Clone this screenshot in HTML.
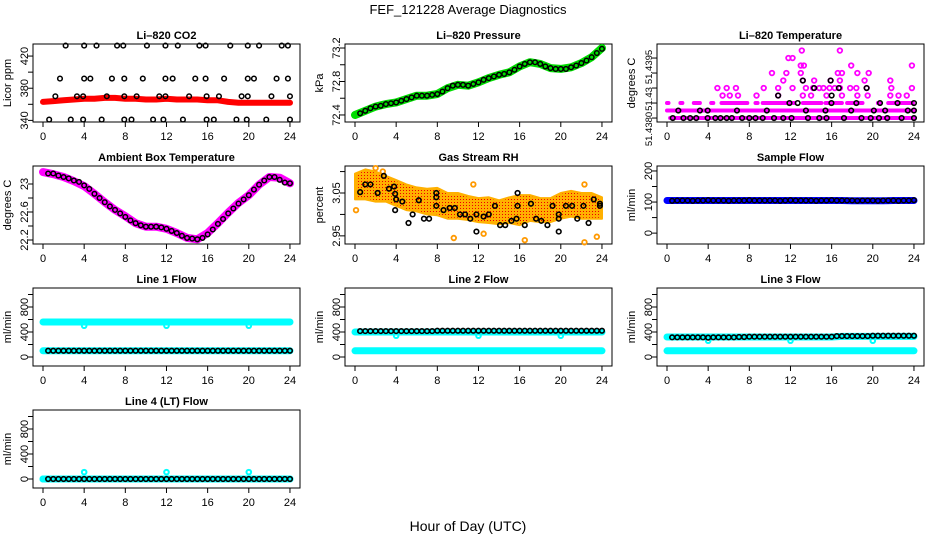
<!DOCTYPE html>
<html><head><meta charset="utf-8">
<style>
html,body{margin:0;padding:0;background:#fff;}
svg{display:block;font-family:"Liberation Sans",Arial,sans-serif;}
</style></head>
<body>
<svg id="chart" width="936" height="540" viewBox="0 0 936 540" xmlns="http://www.w3.org/2000/svg">
<rect width="936" height="540" fill="#fff"/>
<text x="468" y="14" font-size="13" text-anchor="middle">FEF_121228  Average Diagnostics</text>
<text x="468" y="531" font-size="14" text-anchor="middle">Hour of Day (UTC)</text>
<g id="plots"></g>
</svg>
<script>
// ---- shared categories ----
const H48 = [0.5,1,1.5,2,2.5,3,3.5,4,4.5,5,5.5,6,6.5,7,7.5,8,8.5,9,9.5,10,10.5,11,11.5,12,12.5,13,13.5,14,14.5,15,15.5,16,16.5,17,17.5,18,18.5,19,19.5,20,20.5,21,21.5,22,22.5,23,23.5,24];
const H25 = [0,1,2,3,4,5,6,7,8,9,10,11,12,13,14,15,16,17,18,19,20,21,22,23,24];
const xTicks = [0,4,8,12,16,20,24];

// ---- CO2 ----
const co2RedV = [363,364,365,366,367,367,368,368,367,367,366,366,367,366,366,366,365,365,363,362,362,362,362,362,362];
const co2H = [2.2,4.0,5.2,7.2,7.8,10.1,11.9,13.1,15.2,15.8,18.2,19.9,21.0,23.2,23.8,
  1.65,4.0,4.6,6.7,7.9,9.7,11.9,12.6,14.8,15.8,17.6,19.9,20.5,22.7,23.8,
  1.2,3.3,3.9,6.2,7.9,9.1,11.3,11.9,14.2,15.9,17.1,19.3,19.9,22.2,24.0,
  0.6,2.7,3.9,5.7,7.9,8.6,10.7,11.7,13.6,15.9,16.6,18.8,19.8,21.7,24.0];
const co2V = [433,433,433,433,433,433,433,433,433,433,433,433,433,433,433,
  392,392,392,392,392,392,392,392,392,392,392,392,392,392,392,
  370,370,370,370,370,370,370,370,370,370,370,370,370,370,370,
  341,341,341,341,341,341,341,341,341,341,341,341,341,341,341];

// ---- Pressure ----
const presGreen = [72.40,72.45,72.50,72.53,72.55,72.59,72.63,72.63,72.65,72.72,72.76,72.75,72.79,72.84,72.88,72.91,72.98,73.03,73.01,72.96,72.95,72.97,73.02,73.09,73.20];
const presBlack = [72.42,72.45,72.48,72.50,72.51,72.53,72.54,72.55,72.57,72.59,72.61,72.63,72.63,72.63,72.64,72.65,72.68,72.72,72.75,72.76,72.76,72.75,72.77,72.79,72.82,72.84,72.86,72.88,72.89,72.91,72.94,72.98,73.01,73.03,73.03,73.01,72.98,72.96,72.95,72.95,72.95,72.97,72.99,73.02,73.05,73.09,73.14,73.19];

// ---- Li-820 Temperature ----
const tmpRowV = [51.4380,51.43825];
const tmpRowStart = [0.3,0];
const tmpRowEnd = [24,24];
const tmpSegStart = [0,1.3,2.6,4.3,5.3,8.6,9.3,13.2,15.4,17.5,20.5,21.5];
const tmpSegEnd = [0.15,1.5,3.2,4.5,7.8,8.8,12.4,15.0,17.0,19.0,20.7,23.9];
const tmpSegV = 51.4385;
const tmpMagH = [5.4,6.1,6.9,8.7,10.8,13.2,14.0,15.5,17.0,18.5,19.5,21.7,22.5,23.3,
  4.9,5.8,6.7,9.4,10.8,12.2,13.5,14.2,14.8,15.2,15.8,16.3,16.8,17.8,18.4,19.4,21.8,23.8,
  11.3,13.2,14.3,15.9,16.8,19.2,21.7,
  10.2,11.6,13.0,16.6,17.0,18.5,19.6,
  13.0,13.3,17.9,23.8, 11.8,12.2, 13.1,16.8];
const tmpMagV = [51.43875,51.43875,51.43875,51.43875,51.43875,51.43875,51.43875,51.43875,51.43875,51.43875,51.43875,51.43875,51.43875,51.43875,
  51.4390,51.4390,51.4390,51.4390,51.4390,51.4390,51.4390,51.4390,51.4390,51.4390,51.4390,51.4390,51.4390,51.4390,51.4390,51.4390,51.4390,51.4390,
  51.43925,51.43925,51.43925,51.43925,51.43925,51.43925,51.43925,
  51.4395,51.4395,51.4395,51.4395,51.4395,51.4395,51.4395,
  51.43975,51.43975,51.43975,51.43975, 51.4400,51.4400, 51.44025,51.44025];
const tmpBlkH = [0.56,1.6,2.25,2.84,3.95,4.7,5.2,5.8,6.3,7.3,8.0,8.6,9.3,10.4,11.3,12.1,13.7,14.8,15.5,17.2,18.9,19.8,20.6,21.4,22.8,24.0,
  1.1,3.2,3.95,6.8,9.7,13.5,15.4,17.9,20.1,21.2,23.4,24.0,
  11.9,12.7,15.98,18.4,20.7,22.4,24.0, 10.8,16.0, 14.3,16.7,19.4, 13.2,15.9];
const tmpBlkV = [51.4380,51.4380,51.4380,51.4380,51.4380,51.4380,51.4380,51.4380,51.4380,51.4380,51.4380,51.4380,51.4380,51.4380,51.4380,51.4380,51.4380,51.4380,51.4380,51.4380,51.4380,51.4380,51.4380,51.4380,51.4380,51.4380,
  51.43825,51.43825,51.43825,51.43825,51.43825,51.43825,51.43825,51.43825,51.43825,51.43825,51.43825,51.43825,
  51.4385,51.4385,51.4385,51.4385,51.4385,51.4385,51.4385, 51.43875,51.43875, 51.4390,51.4390,51.4390, 51.43925,51.43925];

// ---- Ambient ----
const ambMag = [23.17,23.14,23.10,23.04,22.97,22.86,22.74,22.63,22.54,22.44,22.39,22.39,22.36,22.30,22.23,22.21,22.30,22.44,22.59,22.73,22.84,22.99,23.10,23.09,23.01];
const ambBlack = [23.15,23.15,23.12,23.10,23.08,23.05,23.03,22.98,22.93,22.86,22.80,22.74,22.68,22.63,22.58,22.53,22.48,22.44,22.41,22.39,22.39,22.39,22.38,22.36,22.33,22.30,22.26,22.23,22.22,22.21,22.23,22.28,22.35,22.43,22.50,22.58,22.65,22.72,22.78,22.84,22.92,22.99,23.05,23.10,23.10,23.06,23.02,23.01];

// ---- RH ----
const rhMid = [3.065,3.07,3.065,3.06,3.05,3.04,3.035,3.03,3.03,3.02,3.02,3.015,3.01,3.01,3.005,3.01,3.01,3.015,3.01,3.01,3.02,3.025,3.02,3.02,3.015];
const rhHalf = [0.03,0.035,0.035,0.03,0.03,0.03,0.028,0.03,0.032,0.03,0.03,0.028,0.028,0.03,0.028,0.03,0.035,0.03,0.028,0.028,0.03,0.03,0.03,0.03,0.025];
const rhOutH = [9.6,16.5,22.3,23.5,2.0,2.7,11.5,22.3,0.1,12.5];
const rhOutV = [2.945,2.94,2.935,2.948,3.108,3.10,3.07,3.07,3.01,2.955];
const rhBlkH = [0.5,1.0,1.5,2.2,2.8,3.3,3.8,3.9,4.0,3.9,4.6,5.2,5.6,6.2,6.7,7.2,7.9,7.9,7.9,8.6,9.2,9.7,10.2,10.7,11.2,11.8,11.8,12.5,13.0,13.6,14.1,14.6,15.2,15.7,15.8,15.8,16.5,17.1,17.6,18.1,18.7,19.2,19.8,19.8,19.8,20.5,21.1,21.6,22.2,22.7,23.2,23.8,23.8];
const rhBlkV = [3.052,3.07,3.07,3.05,3.09,3.06,3.065,3.048,3.035,3.01,3.03,2.98,3.0,3.033,2.99,2.99,3.05,3.04,3.02,3.01,3.015,3.015,3.0,3.0,2.99,3.0,2.96,2.995,3.0,3.02,2.975,2.975,2.985,2.99,3.02,3.05,2.975,3.025,2.99,2.985,2.975,3.02,3.0,2.99,2.96,3.02,3.02,2.99,3.02,2.98,3.035,3.025,3.02];

// ---- Sample flow ----
const sampBlue = [105,105,105,105,105,105,105,105,105,105,105,105,105,105,105,105,105,105,104,104,104,104,105,105,105];
const sampBlack = [104,105,105,105,104,105,105,106,105,105,105,104,105,105,105,106,105,105,105,105,105,104,105,106,105,105,105,105,104,105,105,106,105,105,105,105,104,105,105,105,104,105,105,105,104,105,105,106];

// ---- Line flows ----
const l1Hi = [560,560,560,560,560,560,560,560,560,560,560,560,560,560,560,560,560,560,560,560,560,560,560,560,560];
const l1Lo = [100,100,100,100,100,100,100,100,100,100,100,100,100,100,100,100,100,100,100,100,100,100,100,100,100];
const l1Blk = [100,100,100,100,100,100,100,100,100,100,100,100,100,100,100,100,100,100,100,100,100,100,100,100,100,100,100,100,100,100,100,100,100,100,100,100,100,100,100,100,100,100,100,100,100,100,100,100];
const l1Dip = [500,500,500];
const l2Hi = [400,400,400,400,400,400,400,400,400,400,400,400,400,400,400,400,400,400,400,400,400,400,400,400,400];
const l2Lo = [100,100,100,100,100,100,100,100,100,100,100,100,100,100,100,100,100,100,100,100,100,100,100,100,100];
const l2Blk = [415,415,415,415,415,415,415,415,415,415,415,415,415,415,415,420,420,420,420,420,420,420,420,420,420,420,420,420,420,420,420,420,420,420,420,420,420,420,420,420,420,420,420,420,420,420,420,420];
const l2Dip = [340,340,340];
const l3Hi = [320,320,320,320,320,320,320,320,320,320,320,320,320,320,320,320,320,330,330,330,330,330,330,330,330];
const l3Lo = [100,100,100,100,100,100,100,100,100,100,100,100,100,100,100,100,100,100,100,100,100,100,100,100,100];
const l3Blk = [315,315,315,315,315,315,315,310,315,315,315,315,315,320,320,325,325,325,325,325,325,325,325,325,325,325,325,325,325,325,325,325,335,335,335,335,335,335,335,340,340,340,340,340,340,340,340,340];
const l3Dip = [260,260,260];
const l4Base = [0,0,0,0,0,0,0,0,0,0,0,0,0,0,0,0,0,0,0,0,0,0,0,0,0];
const l4Blk = [0,0,0,0,0,0,0,0,0,0,0,0,0,0,0,0,0,0,0,0,0,0,0,0,0,0,0,0,0,0,0,0,0,0,0,0,0,0,0,0,0,0,0,0,0,0,0,0];
const l4Dip = [110,110,110];
const dipH = [4,12,20];

const flowTicks = [0,200,400,600,800,1000];
const flowLabels = [0,400,800];

const NS = "http://www.w3.org/2000/svg";
const root = document.getElementById('plots');
function mk(tag, attrs, parent){
  const e = document.createElementNS(NS, tag);
  for (const k in attrs) e.setAttribute(k, attrs[k]);
  (parent||root).appendChild(e);
  return e;
}

function panel(key, col, row, ymin, ymax, yticks, ylabels, title, ylab, customLabels){
  const L = 33 + 312*col, R = L + 267, T = 44 + 122*row, B = T + 78;
  const g = mk('g', {});
  
  
  const x = h => L + 10 + h*10.29;
  const y = v => B - (v - ymin)/(ymax - ymin)*78;
  const box = mk('rect', {x:L, y:T, width:R-L, height:B-T, fill:'none', stroke:'#000', 'stroke-width':1}, g);
  
  
  const t = mk('text', {x:(L+R)/2, y:T-5, 'font-size':11, 'font-weight':'bold', 'text-anchor':'middle'}, g);
  t.textContent = title;
  
  
  const xa = mk('g', {}, g);
  
  
  mk('line', {x1:x(0), x2:x(24), y1:B, y2:B, stroke:'#000'}, xa);
  xTicks.forEach(v => {
    mk('line', {x1:x(v), x2:x(v), y1:B, y2:B+5, stroke:'#000'}, xa);
    const tl = mk('text', {x:x(v), y:B+18, 'font-size':11, 'text-anchor':'middle'}, xa);
    tl.textContent = v;
    
    
  });
  const ya = mk('g', {}, g);
  
  
  mk('line', {x1:L, x2:L, y1:y(yticks[0]), y2:y(yticks[yticks.length-1]), stroke:'#000'}, ya);
  yticks.forEach(v => mk('line', {x1:L-5, x2:L, y1:y(v), y2:y(v), stroke:'#000'}, ya));
  if (customLabels) {
    customLabels.forEach(cl => {
      const tl = mk('text', {x:L-5, y:cl[1], 'font-size':9.5, 'text-anchor':'middle', transform:`rotate(-90 ${L-5} ${cl[1]})`}, ya);
      tl.textContent = cl[0];
      
      
    });
  } else {
    ylabels.forEach(v => {
      const yy = y(v);
      const tl = mk('text', {x:L-5, y:yy, 'font-size':11, 'text-anchor':'middle', transform:`rotate(-90 ${L-5} ${yy})`}, ya);
      tl.textContent = v;
      
      
    });
  }
  const yt = mk('text', {x:L-22, y:(T+B)/2, 'font-size':11, 'text-anchor':'middle', transform:`rotate(-90 ${L-22} ${(T+B)/2})`}, g);
  yt.textContent = ylab;
  
  
  const marks = mk('g', {}, g);
  
  
  return {x, y, g:marks};
}
function band(p, hs, vs, color, w){
  const pts = hs.map((h,i)=>p.x(h).toFixed(1)+','+p.y(vs[i]).toFixed(1)).join(' ');
  const e = mk('polyline', {points:pts, fill:'none', stroke:color, 'stroke-width':w, 'stroke-linecap':'round', 'stroke-linejoin':'round'}, p.g);
  
  
}
function pts(p, hs, vs, color, sw){
  hs.forEach((h,i)=>{
    const c = mk('circle', {cx:p.x(h), cy:p.y(vs[i]), r:2.3, fill:'none', stroke:color, 'stroke-width':sw||1.5}, p.g);
    
    
  });
}

// CO2
let p = panel('co2', 0, 0, 338, 435, [340,360,380,400,420], [340,380,420], 'Li\u2013820 CO2', 'Licor ppm');
band(p, H25, co2RedV, '#f00', 6);
pts(p, co2H, co2V, '#000');

// Pressure
p = panel('pressure', 1, 0, 72.316, 73.248, [72.4,72.6,72.8,73.0,73.2], [72.4,72.8,73.2], 'Li\u2013820 Pressure', 'kPa');
band(p, H25, presGreen, '#0d0', 8);
pts(p, H48, presBlack, '#000');

// Li temp
p = panel('li-temp', 2, 0, 51.437868, 51.440468, [51.4380,51.4385,51.4390,51.4395,51.4400], [], 'Li\u2013820 Temperature', 'degrees C',
  [['51.4380',129],['51.43',99],['51.4395',67]]);
tmpRowV.forEach((v,i)=> band(p, [tmpRowStart[i], tmpRowEnd[i]], [v,v], '#f0f', 4));
tmpSegStart.forEach((s,i)=> band(p, [s, tmpSegEnd[i]], [tmpSegV,tmpSegV], '#f0f', 4));
pts(p, tmpMagH, tmpMagV, '#f0f', 1.8);
pts(p, tmpBlkH, tmpBlkV, '#000', 1.6);

// Ambient
p = panel('ambient-temp', 0, 1, 22.143, 23.257, [22.2,22.4,22.6,22.8,23.0], [22.2,22.6,23.0], 'Ambient Box Temperature', 'degrees C');
band(p, H25, ambMag, '#f0f', 8);
pts(p, H48, ambBlack, '#000');

// RH
p = panel('rh', 1, 1, 2.931, 3.113, [2.95,3.00,3.05,3.10], [2.95,3.05], 'Gas Stream RH', 'percent');
(function(){
  const defs = mk('defs', {}, p.g);
  const pat = mk('pattern', {id:'rhpat', width:3, height:3, patternUnits:'userSpaceOnUse'}, defs);
  mk('rect', {width:3, height:3, fill:'#ffb000'}, pat);
  mk('rect', {x:1, y:1, width:1, height:1, fill:'#e00'}, pat);
  const up = H25.map((h,i)=>p.x(h).toFixed(1)+','+p.y(rhMid[i]+rhHalf[i]).toFixed(1));
  const dn = H25.map((h,i)=>p.x(h).toFixed(1)+','+p.y(rhMid[i]-rhHalf[i]).toFixed(1)).reverse();
  const poly = mk('polygon', {points:up.concat(dn).join(' '), fill:'url(#rhpat)', stroke:'#ffb000', 'stroke-width':2, 'stroke-linejoin':'round'}, p.g);
  
  
})();
pts(p, rhOutH, rhOutV, '#f90', 1.8);
pts(p, rhBlkH, rhBlkV, '#000', 1.6);

// Sample flow
p = panel('sample-flow', 2, 1, -35, 216, [0,50,100,150,200], [0,100,200], 'Sample Flow', 'ml/min');
band(p, H25, sampBlue, '#00f', 7);
pts(p, H48, sampBlack, '#000');

// Line flows
const flows = [
  ['line1-flow',0,2,'Line 1 Flow',l1Hi,l1Lo,l1Blk,l1Dip],
  ['line2-flow',1,2,'Line 2 Flow',l2Hi,l2Lo,l2Blk,l2Dip],
  ['line3-flow',2,2,'Line 3 Flow',l3Hi,l3Lo,l3Blk,l3Dip],
  ['line4-flow',0,3,'Line 4 (LT) Flow',l4Base,l4Base,l4Blk,l4Dip]
];
flows.forEach(f=>{
  const q = panel(f[0], f[1], f[2], -144, 1104, flowTicks, flowLabels, f[3], 'ml/min');
  band(q, H25, f[4], '#0ff', 7);
  band(q, H25, f[5], '#0ff', 7);
  pts(q, dipH, f[7], '#0ff', 2);
  pts(q, H48, f[6], '#000', 1.6);
});
</script>
</body></html>
